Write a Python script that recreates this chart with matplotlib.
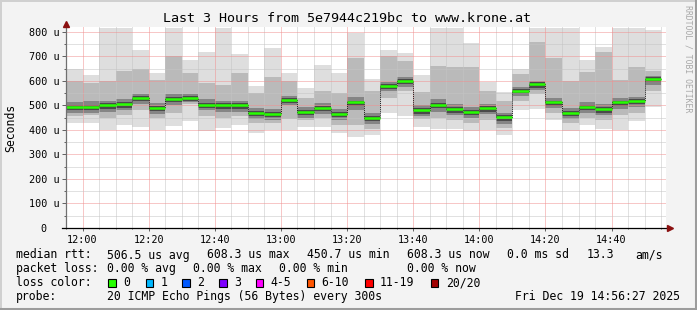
import numpy as np
import matplotlib
matplotlib.use("Agg")
import matplotlib.pyplot as plt
from matplotlib.lines import Line2D
from matplotlib.patches import Rectangle

plt.rcParams['font.family'] = ['DejaVu Sans Mono']

# 5-minute slots, first one starts 11:55 (partly outside the window)
med = [495, 495, 500, 505, 532, 490, 527, 532, 503, 500, 500, 471, 465, 522, 475, 490, 465, 512,
       449, 580, 600, 481, 503, 485, 475, 489, 451, 560, 587, 512, 471, 495, 485, 512, 519, 608]
hi = [648, 626, 815, 815, 727, 633, 815, 686, 718, 815, 708, 581, 736, 631, 570, 667, 633, 797,
      606, 727, 713, 626, 815, 815, 755, 597, 556, 648, 815, 815, 815, 686, 740, 815, 815, 808]
mhi = [598, 590, 600, 640, 650, 604, 700, 631, 590, 585, 631, 550, 617, 598, 530, 560, 550, 694,
       560, 700, 680, 555, 660, 655, 655, 560, 520, 630, 760, 694, 600, 638, 720, 604, 655, 640]
chi = [515, 520, 520, 525, 548, 510, 545, 545, 525, 520, 520, 490, 485, 540, 495, 510, 485, 535,
       470, 595, 615, 500, 525, 505, 495, 505, 470, 575, 600, 530, 490, 515, 505, 530, 535, 620]
clo = [470, 470, 475, 480, 505, 465, 500, 515, 480, 475, 475, 445, 440, 500, 450, 465, 440, 480,
       425, 560, 575, 455, 475, 460, 450, 465, 425, 540, 565, 490, 445, 470, 460, 485, 495, 585]
mlo = [455, 460, 450, 460, 480, 450, 470, 505, 455, 450, 455, 430, 430, 445, 440, 450, 420, 420,
       405, 530, 560, 445, 450, 440, 430, 440, 410, 520, 545, 470, 430, 450, 440, 460, 470, 560]
lo = [427, 428, 400, 420, 412, 400, 418, 437, 395, 407, 420, 389, 400, 400, 414, 414, 386, 372,
      378, 470, 458, 414, 405, 405, 394, 400, 378, 481, 484, 441, 394, 422, 405, 400, 435, 495]

xtick_labels = ["12:00", "12:20", "12:40", "13:00", "13:20", "13:40", "14:00", "14:20", "14:40"]
ytick_labels = ["0  ", "100 u", "200 u", "300 u", "400 u", "500 u", "600 u", "700 u", "800 u"]

loss_labels = ["0", "1", "2", "3", "4-5", "6-10", "11-19", "20/20"]
loss_colors = ["#26ff00", "#00b8ff", "#0059ff", "#7e00ff", "#ff00ff", "#ff5500", "#ff0000", "#a10000"]

W, H = 697, 310
fig = plt.figure(figsize=(W / 100, H / 100), dpi=100)
fig.patch.set_facecolor("#f3f3f3")

def fx(px):
    return px / W

def fy(py):
    return 1 - py / H

ax = fig.add_axes([fx(66), fy(228), fx(666) - fx(66), fy(27) - fy(228)])
ax.set_facecolor("white")

n = len(med)
x0 = np.arange(n) * 5 - 5  # minutes since 12:00
med = np.array(med); hi = np.array(hi); lo = np.array(lo)
mhi = np.array(mhi); mlo = np.array(mlo); chi = np.array(chi); clo = np.array(clo)

# smoke, lightest (all pings) to darkest (near median)
ax.bar(x0, hi - lo, bottom=lo, width=5, align="edge", color="#dedede", lw=0, zorder=1)
ax.bar(x0, mhi - mlo, bottom=mlo, width=5, align="edge", color="#bababa", lw=0, zorder=1.1)
ax.bar(x0, chi - clo, bottom=clo, width=5, align="edge", color="#858585", lw=0, zorder=1.2)
ax.bar(x0, 22, bottom=med - 14, width=5, align="edge", color="#4a4a4a", lw=0, zorder=1.3)

# median: dotted risers + green steps
ax.step(np.r_[x0, x0[-1] + 5], np.r_[med, med[-1]], where="post", color="#202020",
        lw=0.7, ls=(0, (1, 1)), zorder=3)
ax.hlines(med, x0, x0 + 5, color="#26ff00", lw=1.8, zorder=4)

ax.set_xlim(-3.55, 176.45)
ax.set_ylim(0, 820)

ax.set_xticks(np.arange(0, 161, 20))
ax.set_xticklabels(xtick_labels)
ax.set_xticks(np.arange(-5, 180, 5), minor=True)
ax.set_yticks(np.arange(0, 801, 100))
ax.set_yticklabels(ytick_labels)
ax.set_yticks(np.arange(0, 820, 50), minor=True)

ax.set_axisbelow(False)
ax.grid(which="minor", color="#c4c4c4", lw=0.72, ls=(0, (1, 1)))
ax.grid(which="major", color="#f09090", lw=0.72, ls=(0, (1, 1)))
ax.tick_params(which="both", labelsize=7.3, colors="#000000")
ax.tick_params(axis="y", which="major", length=2.6, width=0.7, color="#606060", pad=2)
ax.tick_params(axis="y", which="minor", length=1.3, width=0.7, color="#606060")
ax.tick_params(axis="x", which="major", length=2, width=0.7, color="#606060", pad=3)
ax.tick_params(axis="x", which="minor", length=1, width=0.7, color="#606060")

for s in ax.spines.values():
    s.set_visible(False)
# axis lines with arrows
ax.add_line(Line2D([0, 0], [0, 1.015], transform=ax.transAxes, color="#707070", lw=0.9,
                   clip_on=False, zorder=5))
ax.add_line(Line2D([-0.006, 1.005], [0, 0], transform=ax.transAxes, color="#000000", lw=0.9,
                   clip_on=False, zorder=5))
ax.plot([0], [1.015], marker="^", ms=4.5, color="#8b1010", transform=ax.transAxes,
        clip_on=False, zorder=6)
ax.plot([1.007], [0], marker=">", ms=4.5, color="#8b1010", transform=ax.transAxes,
        clip_on=False, zorder=6)

fig.text(fx(10.5), fy(127.5), "Seconds", fontsize=8.3, rotation=90, ha="center", va="center")

fig.text(fx(347), fy(19), "Last 3 Hours from 5e7944c219bc to www.krone.at", fontsize=9.6,
         ha="center", va="center")
fig.text(fx(688), fy(5), "RRDTOOL / TOBI OETIKER", fontsize=5.9, color="#a8a8a8",
         rotation=-90, ha="center", va="top")

FS = 8.3
def t(px, py, s, **kw):
    fig.text(fx(px), fy(py), s, fontsize=FS, va="center", **kw)

y1, y2, y3, y4 = 255, 268.5, 282.5, 296.5
t(16, y1, "median rtt:")
t(107.3, y1, "506.5 us avg")
t(207.3, y1, "608.3 us max")
t(306.7, y1, "450.7 us min")
t(406.7, y1, "608.3 us now")
t(506.7, y1, "0.0 ms sd")
t(586.7, y1, "13.3")
t(635, y1, "am/s")

t(16, y2, "packet loss:")
t(107.3, y2, "0.00 % avg")
t(193.3, y2, "0.00 % max")
t(279.3, y2, "0.00 % min")
t(406.7, y2, "0.00 % now")

t(16, y3, "loss color:")
box_x = [108.3, 145.7, 182.3, 219, 255.7, 306.7, 365, 430.7]
for bx, lab, col in zip(box_x, loss_labels, loss_colors):
    fig.patches.append(Rectangle((fx(bx), fy(y3 + 4)), fx(7.5), fy(0) - fy(7.5),
                                 transform=fig.transFigure, facecolor=col,
                                 edgecolor="black", lw=0.8))
    t(bx + 15, y3, lab)

t(16, y4, "probe:")
t(107.3, y4, "20 ICMP Echo Pings (56 Bytes) every 300s")
t(680, y4, "Fri Dec 19 14:56:27 2025", ha="right")

# image frame
fig.add_artist(Line2D([0, 1], [fy(0.5), fy(0.5)], transform=fig.transFigure, color="#d0d0d0", lw=1.4))
fig.add_artist(Line2D([fx(0.5), fx(0.5)], [0, 1], transform=fig.transFigure, color="#d0d0d0", lw=1.4))
fig.add_artist(Line2D([0, 1], [fy(309), fy(309)], transform=fig.transFigure, color="#9c9c9c", lw=2.2))
fig.add_artist(Line2D([fx(696), fx(696)], [0, 1], transform=fig.transFigure, color="#9c9c9c", lw=2.2))

fig.savefig("out.png", dpi=100, facecolor=fig.get_facecolor())
